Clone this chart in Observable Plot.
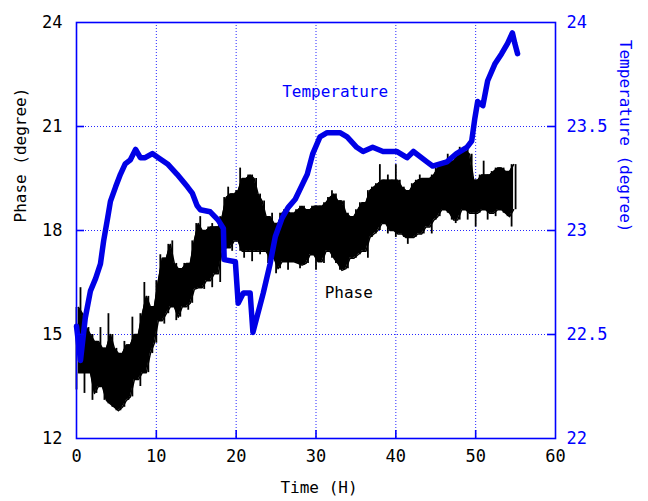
<!DOCTYPE html>
<html>
<head>
<meta charset="utf-8">
<script src="https://cdn.jsdelivr.net/npm/d3@7"></script>
<script src="https://cdn.jsdelivr.net/npm/@observablehq/plot@0.6"></script>
<style>
  html, body { margin: 0; padding: 0; background: #ffffff; }
</style>
</head>
<body>
<div id="chart"></div>
<script>
// ---------- data ----------
const xTicks = [0, 10, 20, 30, 40, 50, 60];
const phaseTicks = [12, 15, 18, 21, 24];
const tempTickLabels = ["22", "22.5", "23", "23.5", "24"];
const tempDomain = [22, 24];
const phaseDomain = [12, 24];

// Phase (black, noisy) : sampled envelope, low / high per time
const phaseT = [0,0.5,1,1.5,2,2.5,3,3.5,4,4.5,5,5.5,6,6.5,7,7.5,8,8.5,9,9.5,
  10,10.5,11,11.5,12,12.5,13,13.5,14,14.5,15,15.5,16,16.5,17,17.5,18,18.5,19,19.5,
  20,20.5,21,21.5,22,22.5,23,23.5,24,24.5,25,25.5,26,26.5,27,27.5,28,28.5,29,29.5,
  30,30.5,31,31.5,32,32.5,33,33.5,34,34.5,35,35.5,36,36.5,37,37.5,38,38.5,39,39.5,
  40,40.5,41,41.5,42,42.5,43,43.5,44,44.5,45,45.5,46,46.5,47,47.5,48,48.5,49,49.5,
  50,50.5,51,51.5,52,52.5,53,53.5,54,54.5,55];
const phaseHigh = [15.78,16.35,15.6,15.2,15.0,14.8,15.2,14.6,15.6,15.0,14.6,14.45,14.8,14.7,15.5,15.0,15.6,16.5,16.1,15.8,
  16.55,17.3,17.2,17.6,17.7,17.05,16.9,17.05,17.05,17.7,18.2,18.4,18.0,18.1,18.2,18.1,18.4,18.95,19.25,19.05,
  19.15,19.8,19.5,19.6,19.6,19.5,19.05,18.85,18.4,18.5,18.2,18.5,18.6,18.7,18.5,18.6,18.7,18.7,18.6,18.7,
  18.7,18.7,18.8,18.95,19.15,19.05,18.85,18.85,18.5,18.4,18.6,18.8,18.8,19.15,19.25,19.35,19.9,19.45,19.6,19.45,
  19.9,19.45,19.25,19.15,19.35,19.45,19.6,19.5,19.5,19.6,19.8,19.9,20.0,20.2,20.0,20.2,20.4,20.3,20.4,20.2,
  19.45,19.6,20.0,19.6,19.7,19.8,19.8,19.8,19.7,19.9,19.9];
const phaseLow = [13.4,13.9,13.3,13.9,13.1,13.3,13.5,13.1,13.0,12.9,12.8,12.8,12.9,13.1,13.2,13.7,13.5,13.9,13.9,14.45,
  14.75,15.4,15.3,15.6,15.8,15.4,15.5,15.8,15.7,15.9,16.3,16.35,16.3,16.55,16.35,16.75,16.5,17.4,17.5,17.4,
  17.7,17.4,17.2,17.4,17.1,17.4,17.3,17.4,17.05,17.2,16.75,16.9,17.1,16.85,17.1,17.05,16.9,17.0,17.05,17.3,
  16.85,17.1,17.05,17.4,17.2,17.05,16.85,16.85,16.9,17.2,17.2,17.3,17.4,17.2,17.8,17.9,18.0,18.2,17.9,18.0,
  17.8,17.9,17.8,17.6,17.8,17.8,17.9,17.9,18.1,17.9,18.3,18.4,18.6,18.5,18.3,18.2,18.3,18.6,18.3,18.5,
  18.1,18.5,18.6,18.3,18.5,18.4,18.6,18.5,18.4,18.1,18.6];

// Temperature (blue, right axis)
const tempT = [0,0.5,1.1,1.75,2.4,3,3.4,3.9,4.25,4.9,5.5,6.1,6.75,7.4,8,8.6,9.5,10.25,11.4,12.6,
  13.9,14.5,15.1,15.5,16.75,17.75,18.4,18.5,19.9,20.25,20.9,21.75,22.1,23.4,24.25,24.9,25.75,26.5,27.4,28.4,
  28.9,29.6,30.5,31.4,33,33.9,35.1,35.9,37.1,38.4,40.1,41.4,42.2,43.9,44.6,46.4,47.6,48.9,49.5,49.9,
  50.25,50.9,51.5,52.4,53.25,54,54.6,54.9,55.25];
const tempV = [22.54,22.375,22.58,22.71,22.77,22.84,22.95,23.06,23.14,23.21,23.27,23.32,23.34,23.39,23.35,23.35,23.37,23.35,23.32,23.27,
  23.21,23.18,23.12,23.10,23.09,23.05,23.01,22.86,22.85,22.65,22.70,22.70,22.51,22.70,22.84,22.97,23.06,23.11,23.15,23.23,
  23.27,23.37,23.45,23.47,23.47,23.45,23.40,23.38,23.40,23.38,23.38,23.35,23.38,23.33,23.31,23.33,23.37,23.40,23.43,23.54,
  23.62,23.60,23.72,23.80,23.85,23.90,23.95,23.90,23.85];

const annotations = [
  {label: "Temperature", t: 32.4, y: 22.0, color: "blue"},
  {label: "Phase", t: 34.1, y: 16.2, color: "black"}
];

// ---------- build tables ----------
const phase = phaseT.map((t, i) => ({t, lo: phaseLow[i], hi: phaseHigh[i]}));
// dense core of the noisy trace: between neighbouring samples, keep the overlap only,
// so each sample's full low/high excursion sticks out as a spike
const core = [];
for (let i = 0; i < phase.length - 1; i++) {
  const a = phase[i], b = phase[i + 1];
  core.push({t: (a.t + b.t) / 2, lo: Math.max(a.lo, b.lo), hi: Math.min(a.hi, b.hi)});
}
// map temperature onto the phase scale (dual axis)
const toPhase = d3.scaleLinear().domain(tempDomain).range(phaseDomain);
const temp = tempT.map((t, i) => ({t, v: toPhase(tempV[i])}));

const BLUE = "#0000ff";
const LINEBLUE = "#0000e6";
const FONT = "'DejaVu Sans Mono', monospace";
const W = 648, H = 501, ML = 76, MR = 93, MT = 22, MB = 63;
const FW = W - ML - MR, FH = H - MT - MB;

const chart = Plot.plot({
  width: W,
  height: H,
  marginLeft: ML,
  marginRight: MR,
  marginTop: MT,
  marginBottom: MB,
  style: {fontFamily: FONT, fontSize: "17px", background: "#ffffff", color: "black"},
  x: {domain: [0, 60]},
  y: {domain: phaseDomain},
  marks: [
    // dotted grid
    Plot.ruleX(xTicks.slice(1, -1), {stroke: BLUE, strokeWidth: 1, strokeDasharray: "1,2", strokeOpacity: 0.85}),
    Plot.ruleY(phaseTicks.slice(1, -1), {stroke: BLUE, strokeWidth: 1, strokeDasharray: "1,2", strokeOpacity: 0.85}),
    // phase: dense core + spikes
    Plot.areaY(core, {x: "t", y1: "lo", y2: "hi", fill: "black", curve: "linear"}),
    Plot.lineY(core, {x: "t", y: "hi", stroke: "black", strokeWidth: 1.5}),
    Plot.lineY(core, {x: "t", y: "lo", stroke: "black", strokeWidth: 1.5}),
    Plot.ruleX(phase, {x: "t", y1: "lo", y2: "hi", stroke: "black", strokeWidth: 1.8}),
    // temperature
    Plot.lineY(temp, {x: "t", y: "v", stroke: LINEBLUE, strokeWidth: 5.5, strokeLinejoin: "round", strokeLinecap: "round"}),
    // frame
    Plot.frame({stroke: BLUE, strokeWidth: 1.6}),
    // inward ticks
    Plot.tickY(phaseTicks.slice(1, -1), {y: d => d, stroke: BLUE, strokeWidth: 1.6, insetRight: FW - 8}),
    Plot.tickY(phaseTicks.slice(1, -1), {y: d => d, stroke: BLUE, strokeWidth: 1.6, insetLeft: FW - 8}),
    Plot.tickX(xTicks.slice(1, -1), {x: d => d, stroke: BLUE, strokeWidth: 1.6, insetTop: FH - 8}),
    // axes
    Plot.axisX({ticks: xTicks, tickSize: 0, tickPadding: 11, label: null, fill: "black", fontSize: 17}),
    Plot.axisY({anchor: "left", ticks: phaseTicks, tickSize: 0, tickPadding: 14, label: null, fill: "black", fontSize: 17}),
    Plot.axisY({anchor: "right", ticks: phaseTicks, tickSize: 0, tickPadding: 11, label: null, fill: BLUE, fontSize: 17,
      tickFormat: d => tempTickLabels[phaseTicks.indexOf(d)]}),
    // axis titles
    Plot.text(["Phase (degree)"], {frameAnchor: "left", dx: -56, dy: -8, rotate: -90, fill: "black", fontSize: 16, text: d => d}),
    Plot.text(["Temperature (degree)"], {frameAnchor: "right", dx: 70, dy: 2, rotate: 90, fill: BLUE, fontSize: 16, text: d => d}),
    Plot.text(["Time (H)"], {frameAnchor: "bottom", dy: 54, dx: 3, fill: "black", fontSize: 16, text: d => d}),
    // in-plot labels
    Plot.text(annotations, {x: "t", y: "y", text: "label", fill: d => d.color, fontSize: 16})
  ]
});
document.getElementById("chart").appendChild(chart);
</script>
</body>
</html>
